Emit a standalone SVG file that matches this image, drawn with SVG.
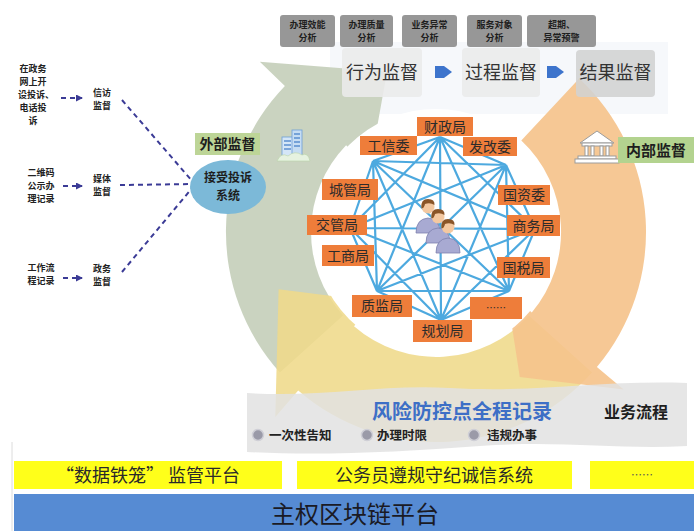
<svg xmlns="http://www.w3.org/2000/svg" width="694" height="531" viewBox="0 0 694 531">
  <defs>
    <style>
      text { font-family: "Noto Sans CJK SC", "Noto Sans", sans-serif; }
      .dept rect { fill: #ee7d3a; }
      .dept text { font-size: 14px; fill: #2b2b2b; text-anchor: middle; }
      .tag rect { fill: #979797; }
      .tag text { font-size: 9px; font-weight: bold; fill: #1e1e1e; text-anchor: middle; }
      .stage rect { fill: #ebebeb; fill-opacity: 0.88; }
      .stage text { font-size: 18px; fill: #333; text-anchor: middle; }
      .src text { font-size: 9px; font-weight: bold; fill: #222; text-anchor: middle; }
      .dash { fill: none; stroke: #3b3b96; stroke-width: 2; stroke-dasharray: 5 4; }
      .bullet circle { fill: #9a9aa8; stroke: #cfcfd6; stroke-width: 1.5; }
      .bullet text { font-size: 12.5px; font-weight: bold; fill: #222; }
      .bar rect { fill: #ffff1a; }
      .bar text { font-size: 18px; fill: #2a2a2a; text-anchor: middle; }
    </style>
    <marker id="dashHead" markerWidth="7" markerHeight="7" refX="6" refY="3.5" orient="auto" markerUnits="userSpaceOnUse">
      <path d="M0,0 L7,3.5 L0,7 Z" fill="#3b3b96"/>
    </marker>
    <g id="person">
      <path d="M-12,27 Q-12,13 0,12 Q12,13 12,27 Z" fill="#a8aad2" stroke="#7e81ad" stroke-width="0.8"/>
      <circle cx="0" cy="1" r="6.5" fill="#f4c8a0"/>
      <path d="M-6.6,2 Q-7.5,-7 0,-7 Q7,-7 6.5,-1 Q2,-4 -3,-2 Q-4,3 -6.6,2 Z" fill="#8a5528"/>
    </g>
  </defs>

  <!-- soft panel behind the stage boxes -->
  <rect x="330" y="42" width="338" height="72" fill="#f6f8fb"/>

  <!-- cycle ring: three curved arrows -->
  <g id="cycle-ring">
    <path id="arc-green" d="M279.9,372.5 A210,210 0 0 1 284.9,86.1 L259.8,61.8 L387,71.8 L369.8,168.1 L346.1,145.2 A125,125 0 0 0 343.1,315.6 Z" fill="#c6cfbb" fill-opacity="0.92"/>
    <path id="arc-yellow" d="M592.1,372.5 A210,210 0 0 1 298.2,390.5 L275.3,416.9 L278.6,289.3 L375.6,301.4 L354,326.3 A125,125 0 0 0 528.9,315.6 Z" fill="#efd98a" fill-opacity="0.88"/>
    <path id="arc-orange" d="M579.2,78.4 A210,210 0 0 1 596.9,367 L623.7,389.5 L519.8,377.1 L506.5,291.1 L531.8,312.4 A125,125 0 0 0 521.3,140.6 Z" fill="#f5c38c" fill-opacity="0.92"/>
    <circle cx="436" cy="232" r="123" fill="#ffffff"/>
  </g>

  <g id="connectors">
    <!-- department mesh -->
    <path d="M440,137L373,161 M440,137L506,165 M440,137L350,228 M440,137L535,229 M440,137L377,291 M440,137L509,291 M440,137L441,320
             M373,161L506,165 M373,161L350,228 M373,161L535,229 M373,161L377,291 M373,161L509,291 M373,161L441,320
             M506,165L350,228 M506,165L535,229 M506,165L377,291 M506,165L509,291 M506,165L441,320
             M350,228L535,229 M350,228L377,291 M350,228L509,291 M350,228L441,320
             M535,229L377,291 M535,229L509,291 M535,229L441,320
             M377,291L509,291 M377,291L441,320 M509,291L441,320"
          fill="none" stroke="#3aa0dc" stroke-width="2.2" stroke-opacity="0.9"/>
    <!-- complaint channels -->
    <path class="dash" d="M61,98 L82,98" marker-end="url(#dashHead)"/>
    <path class="dash" d="M63,186 L82,186" marker-end="url(#dashHead)"/>
    <path class="dash" d="M63,278 L82,278" marker-end="url(#dashHead)"/>
    <path class="dash" d="M122,100 L193,182"/>
    <path class="dash" d="M120,185 L193,184"/>
    <path class="dash" d="M122,272 L193,187"/>
    <ellipse cx="195" cy="184" rx="3" ry="4" fill="#2c2c8a"/>
  </g>

  <!-- people in the centre -->
  <g id="staff">
    <use href="#person" x="428" y="206"/>
    <use href="#person" x="438" y="216"/>
    <use href="#person" x="448" y="226"/>
  </g>

  <!-- departments -->
  <g id="dept-caizheng" class="dept"><rect x="417" y="117" width="56" height="19"/><text x="445" y="131.5">财政局</text></g>
  <g id="dept-gongxin" class="dept"><rect x="360" y="136" width="57" height="19"/><text x="388.5" y="150.5">工信委</text></g>
  <g id="dept-fagai" class="dept"><rect x="463" y="137" width="54" height="19"/><text x="490" y="151.5">发改委</text></g>
  <g id="dept-chengguan" class="dept"><rect x="322" y="179" width="56" height="21"/><text x="350" y="194.5">城管局</text></g>
  <g id="dept-jiaoguan" class="dept"><rect x="307" y="215" width="60" height="20"/><text x="337" y="230">交管局</text></g>
  <g id="dept-gongshang" class="dept"><rect x="322" y="245" width="52" height="21"/><text x="348" y="260.5">工商局</text></g>
  <g id="dept-zhijian" class="dept"><rect x="352" y="295" width="60" height="22"/><text x="382" y="311">质监局</text></g>
  <g id="dept-guihua" class="dept"><rect x="413" y="320" width="59" height="22"/><text x="442.5" y="336">规划局</text></g>
  <g id="dept-more" class="dept"><rect x="470" y="297" width="52" height="22"/><text x="496" y="312" style="font-size:10px">……</text></g>
  <g id="dept-guoshui" class="dept"><rect x="497" y="257" width="53" height="21"/><text x="523.5" y="272.5">国税局</text></g>
  <g id="dept-shangwu" class="dept"><rect x="507" y="215" width="53" height="21"/><text x="533.5" y="230.5">商务局</text></g>
  <g id="dept-guozi" class="dept"><rect x="498" y="185" width="52" height="20"/><text x="524" y="200">国资委</text></g>

  <!-- analysis tags -->
  <g id="tag-efficiency" class="tag"><rect x="280" y="15" width="55" height="32" rx="3"/><text x="307.5" y="28">办理效能<tspan x="307.5" dy="13">分析</tspan></text></g>
  <g id="tag-quality" class="tag"><rect x="340" y="15" width="53" height="32" rx="3"/><text x="366.5" y="28">办理质量<tspan x="366.5" dy="13">分析</tspan></text></g>
  <g id="tag-anomaly" class="tag"><rect x="402" y="15" width="55" height="32" rx="3"/><text x="429.5" y="28">业务异常<tspan x="429.5" dy="13">分析</tspan></text></g>
  <g id="tag-client" class="tag"><rect x="467" y="15" width="55" height="32" rx="3"/><text x="494.5" y="28">服务对象<tspan x="494.5" dy="13">分析</tspan></text></g>
  <g id="tag-warning" class="tag"><rect x="527" y="15" width="69" height="32" rx="3"/><text x="561.5" y="28">超期、<tspan x="561.5" dy="13">异常预警</tspan></text></g>

  <!-- supervision stages -->
  <g id="stage-behavior" class="stage"><rect x="342" y="48" width="80" height="49" rx="4"/><text x="382" y="79">行为监督</text></g>
  <g id="stage-process" class="stage"><rect x="462" y="48" width="78" height="49" rx="4"/><text x="501" y="79">过程监督</text></g>
  <g id="stage-result" class="stage"><rect x="576" y="50" width="79" height="47" rx="4" style="fill:#d2d2d2"/><text x="615.5" y="79">结果监督</text></g>
  <path id="step-1" d="M435,66 L444,66 L452,72 L444,78 L435,78 Z" fill="#3d74cc"/>
  <path id="step-2" d="M547,66 L556,66 L564,72 L556,78 L547,78 Z" fill="#3d74cc"/>

  <!-- external supervision -->
  <g id="external">
    <rect x="195" y="133" width="65" height="22" fill="#bdd597"/>
    <text x="227.5" y="149" style="font-size:14px;font-weight:bold;fill:#1e1e1e;text-anchor:middle">外部监督</text>
  </g>
  <g id="icon-city">
    <rect x="282" y="137" width="11" height="21" fill="#d4e6f7" stroke="#6d9ed8" stroke-width="0.8"/>
    <rect x="292" y="130" width="10" height="28" fill="#c6ddf3" stroke="#6d9ed8" stroke-width="0.8"/>
    <path d="M284,141h7M284,145h7M284,149h7M294,134h6M294,138h6M294,142h6M294,146h6" stroke="#5b8fd0" stroke-width="1.4"/>
    <path d="M277,161 Q281,152 288,156 Q295,150 302,155 Q308,152 310,161 Z" fill="#e6f2e0" stroke="#b8d4a8" stroke-width="0.6"/>
  </g>
  <g id="complaint-system">
    <ellipse cx="228" cy="187" rx="38" ry="27" fill="#7cb9d8"/>
    <text x="228" y="182" style="font-size:12px;font-weight:bold;fill:#1e1e1e;text-anchor:middle">接受投诉<tspan x="228" dy="18">系统</tspan></text>
  </g>

  <!-- internal supervision -->
  <g id="icon-bank" fill="#ffffff" stroke="#9c9c9c" stroke-width="1">
    <path d="M580,143 L597,131 L614,143 Z"/>
    <rect x="582" y="143" width="30" height="3"/>
    <rect x="585" y="146" width="3" height="10"/>
    <rect x="591" y="146" width="3" height="10"/>
    <rect x="600" y="146" width="3" height="10"/>
    <rect x="606" y="146" width="3" height="10"/>
    <rect x="578" y="156" width="38" height="3"/>
    <rect x="575" y="159" width="44" height="4"/>
  </g>
  <g id="internal">
    <rect x="618" y="137" width="76" height="26" fill="#b3d38f"/>
    <text x="656" y="156" style="font-size:15px;font-weight:bold;fill:#1e1e1e;text-anchor:middle">内部监督</text>
  </g>

  <!-- complaint sources -->
  <g id="src-online" class="src">
    <text x="33" y="72">在政务<tspan x="33" dy="13">网上开</tspan><tspan x="36" dy="13">设投诉、</tspan><tspan x="33" dy="13">电话投</tspan><tspan x="33" dy="13">诉</tspan></text>
  </g>
  <g id="sup-petition" class="src"><text x="102" y="96">信访<tspan x="102" dy="13">监督</tspan></text></g>
  <g id="src-qrcode" class="src"><text x="41" y="176">二维码<tspan x="41" dy="13">公示办</tspan><tspan x="41" dy="13">理记录</tspan></text></g>
  <g id="sup-media" class="src"><text x="102" y="182">媒体<tspan x="102" dy="13">监督</tspan></text></g>
  <g id="src-workflow" class="src"><text x="41" y="271">工作流<tspan x="41" dy="13">程记录</tspan></text></g>
  <g id="sup-gov" class="src"><text x="102" y="272">政务<tspan x="102" dy="13">监督</tspan></text></g>

  <!-- business process ribbon -->
  <g id="process-ribbon">
    <path d="M247,393 C320,398 380,384 450,388 C540,393 600,380 687,383 L687,446 C620,450 560,440 480,446 C400,452 320,456 247,452 Z" fill="#e2e2e2" fill-opacity="0.85"/>
    <text x="462" y="419" style="font-size:20px;font-weight:bold;fill:#3d6fc6;text-anchor:middle">风险防控点全程记录</text>
    <text x="636" y="418" style="font-size:16px;font-weight:bold;fill:#1e1e1e;text-anchor:middle">业务流程</text>
    <g class="bullet"><circle cx="258" cy="435" r="5.5"/><text x="269" y="440">一次性告知</text></g>
    <g class="bullet"><circle cx="367" cy="435" r="5.5"/><text x="377" y="440">办理时限</text></g>
    <g class="bullet"><circle cx="474" cy="435" r="5.5"/><text x="487" y="440">违规办事</text></g>
  </g>

  <!-- platforms -->
  <line x1="12" y1="442" x2="12" y2="531" stroke="#dcdcdc" stroke-width="1"/>
  <g id="bar-cage" class="bar"><rect x="14" y="461" width="268" height="28"/><text x="148" y="482">“数据铁笼” 监管平台</text></g>
  <g id="bar-integrity" class="bar"><rect x="297" y="461" width="275" height="28"/><text x="434" y="482">公务员遵规守纪诚信系统</text></g>
  <g id="bar-more" class="bar"><rect x="590" y="461" width="104" height="28"/><text x="642" y="479" style="font-size:11px;fill:#555">……</text></g>
  <g id="chain-platform">
    <rect x="14" y="494" width="680" height="37" fill="#568bd3"/>
    <text x="355" y="523" style="font-size:24px;fill:#1a1a24;text-anchor:middle">主权区块链平台</text>
  </g>
</svg>
